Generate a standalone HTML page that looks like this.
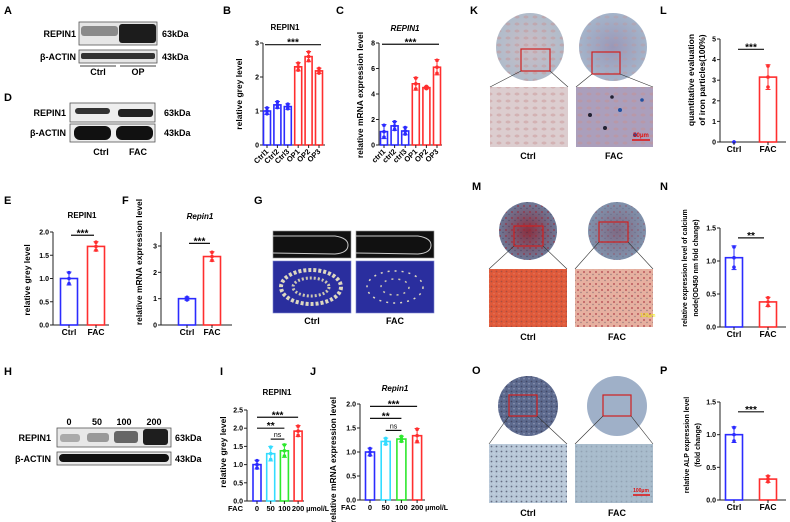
<!DOCTYPE html>
<html><head><meta charset="utf-8">
<style>
html,body{margin:0;padding:0;background:#fff;}
svg{display:block;font-family:"Liberation Sans",Arial,sans-serif;}
.lt{font-weight:bold;font-size:11px;}
.bl{font-weight:bold;font-size:9px;}
</style></head>
<body>
<svg id="fig" width="790" height="522" viewBox="0 0 790 522" xmlns="http://www.w3.org/2000/svg">
<defs>
<radialGradient id="gk1" cx="50%" cy="50%" r="50%"><stop offset="0" stop-color="#cbbcc4"/><stop offset="1" stop-color="#b0bccb"/></radialGradient>
<radialGradient id="gk2" cx="50%" cy="50%" r="50%"><stop offset="0" stop-color="#9a98b8"/><stop offset="1" stop-color="#a4b4ca"/></radialGradient>
<radialGradient id="gm1" cx="50%" cy="50%" r="50%"><stop offset="0" stop-color="#8a3040"/><stop offset="1" stop-color="#6d7a98"/></radialGradient>
<radialGradient id="gm2" cx="50%" cy="50%" r="50%"><stop offset="0" stop-color="#7e6a84"/><stop offset="1" stop-color="#8092ac"/></radialGradient>
<pattern id="pdots" width="6" height="6" patternUnits="userSpaceOnUse"><rect width="6" height="6" fill="none"/><circle cx="2" cy="2" r="1" fill="#a02030" opacity="0.6"/><circle cx="5" cy="4.5" r="0.7" fill="#202040" opacity="0.4"/></pattern>
<pattern id="pdark" width="5" height="5" patternUnits="userSpaceOnUse"><circle cx="1.5" cy="1.5" r="0.9" fill="#30304a" opacity="0.6"/><circle cx="4" cy="3.8" r="0.7" fill="#dde" opacity="0.5"/></pattern>
<pattern id="pcell" width="9" height="7" patternUnits="userSpaceOnUse"><ellipse cx="4" cy="3" rx="2.5" ry="1.5" fill="#c89090" opacity="0.45"/></pattern>
</defs>

<text class="lt" x="4" y="14">A</text>
<text class="lt" x="223" y="14">B</text>
<text class="lt" x="336" y="14">C</text>
<text class="lt" x="4" y="101">D</text>
<text class="lt" x="4" y="204">E</text>
<text class="lt" x="122" y="204">F</text>
<text class="lt" x="254" y="204">G</text>
<text class="lt" x="4" y="375">H</text>
<text class="lt" x="220" y="375">I</text>
<text class="lt" x="310" y="375">J</text>
<text class="lt" x="470" y="14">K</text>
<text class="lt" x="660" y="14">L</text>
<text class="lt" x="472" y="190">M</text>
<text class="lt" x="660" y="190">N</text>
<text class="lt" x="472" y="374">O</text>
<text class="lt" x="660" y="374">P</text>

<g>
<rect x="79" y="22" width="78" height="23" fill="#e6e6e6" stroke="#555" stroke-width="0.8"/>
<rect x="81" y="26" width="37" height="10" fill="#8a8a8a" rx="3"/>
<rect x="119" y="24" width="37" height="19" fill="#1c1c1c" rx="3"/>
<rect x="79" y="50" width="78" height="13" fill="#e6e6e6" stroke="#555" stroke-width="0.8"/>
<rect x="81" y="53" width="74" height="6" fill="#333" rx="2"/>
<line x1="80" y1="66" x2="116" y2="66" stroke="#000" stroke-width="0.8"/>
<line x1="120" y1="66" x2="156" y2="66" stroke="#000" stroke-width="0.8"/>
<text class="bl" x="76" y="37" text-anchor="end">REPIN1</text>
<text class="bl" x="76" y="60" text-anchor="end">β-ACTIN</text>
<text class="bl" x="162" y="37">63kDa</text>
<text class="bl" x="162" y="60">43kDa</text>
<text class="bl" x="98" y="75" text-anchor="middle">Ctrl</text>
<text class="bl" x="138" y="75" text-anchor="middle">OP</text>
</g>
<g>
<rect x="70" y="103" width="85" height="19" fill="#eee" stroke="#555" stroke-width="0.8"/>
<rect x="75" y="108" width="35" height="6" fill="#333" rx="3"/>
<rect x="118" y="109" width="35" height="8" fill="#222" rx="3"/>
<rect x="70" y="124" width="85" height="18" fill="#eee" stroke="#555" stroke-width="0.8"/>
<rect x="74" y="126" width="37" height="14" fill="#111" rx="6"/>
<rect x="116" y="126" width="37" height="14" fill="#111" rx="6"/>
<text class="bl" x="66" y="116" text-anchor="end">REPIN1</text>
<text class="bl" x="66" y="136" text-anchor="end">β-ACTIN</text>
<text class="bl" x="164" y="116">63kDa</text>
<text class="bl" x="164" y="136">43kDa</text>
<text class="bl" x="101" y="155" text-anchor="middle">Ctrl</text>
<text class="bl" x="138" y="155" text-anchor="middle">FAC</text>
</g>
<g>
<text class="bl" x="69" y="425" text-anchor="middle">0</text>
<text class="bl" x="97" y="425" text-anchor="middle">50</text>
<text class="bl" x="124" y="425" text-anchor="middle">100</text>
<text class="bl" x="154" y="425" text-anchor="middle">200</text>
<rect x="57" y="428" width="114" height="19" fill="#e8e8e8" stroke="#555" stroke-width="0.8"/>
<rect x="60" y="434" width="20" height="8" fill="#aaa" rx="3"/>
<rect x="87" y="433" width="22" height="9" fill="#999" rx="3"/>
<rect x="114" y="431" width="24" height="12" fill="#666" rx="3"/>
<rect x="143" y="429" width="25" height="16" fill="#1e1e1e" rx="3"/>
<rect x="57" y="452" width="114" height="13" fill="#e8e8e8" stroke="#555" stroke-width="0.8"/>
<rect x="59" y="454" width="110" height="8" fill="#111" rx="4"/>
<text class="bl" x="51" y="441" text-anchor="end">REPIN1</text>
<text class="bl" x="51" y="462" text-anchor="end">β-ACTIN</text>
<text class="bl" x="175" y="441">63kDa</text>
<text class="bl" x="175" y="462">43kDa</text>
</g>
<g>
<rect x="273" y="231" width="78" height="27" fill="#111" stroke="#999" stroke-width="0.6"/>
<path d="M273 236 L335 236 Q348 238 348 245 Q348 253 335 254 L273 253" fill="none" stroke="#ccc" stroke-width="1"/>
<rect x="356" y="231" width="78" height="27" fill="#111" stroke="#999" stroke-width="0.6"/>
<path d="M356 236 L418 236 Q431 238 431 245 Q431 253 418 254 L356 253" fill="none" stroke="#ccc" stroke-width="1"/>
<rect x="273" y="261" width="78" height="52" fill="#2a2e9e" stroke="#7d85d0" stroke-width="0.6"/>
<ellipse cx="311" cy="287" rx="30" ry="17" fill="none" stroke="#ddd8c0" stroke-width="4" stroke-dasharray="3 2"/>
<ellipse cx="311" cy="287" rx="18" ry="9" fill="none" stroke="#ccc7b0" stroke-width="3" stroke-dasharray="2 2"/>
<rect x="356" y="261" width="78" height="52" fill="#2a2e9e" stroke="#7d85d0" stroke-width="0.6"/>
<ellipse cx="395" cy="287" rx="28" ry="16" fill="none" stroke="#ddd8c0" stroke-width="1.5" stroke-dasharray="2 5"/>
<ellipse cx="395" cy="287" rx="14" ry="8" fill="none" stroke="#ccc7b0" stroke-width="1.5" stroke-dasharray="2 5"/>
<text class="bl" x="312" y="324" text-anchor="middle">Ctrl</text>
<text class="bl" x="395" y="324" text-anchor="middle">FAC</text>
</g>
<g>
<circle cx="530" cy="47" r="34" fill="url(#gk1)"/>
<circle cx="530" cy="47" r="34" fill="url(#pcell)"/>
<circle cx="613" cy="47" r="34" fill="url(#gk2)"/>
<circle cx="613" cy="47" r="34" fill="url(#pcell)" opacity="0.7"/>
<rect x="521" y="49" width="29" height="22" fill="none" stroke="#d02020" stroke-width="1.2"/>
<rect x="592" y="52" width="28" height="22" fill="none" stroke="#d02020" stroke-width="1.2"/>
<line x1="521" y1="71" x2="490" y2="87" stroke="#333" stroke-width="0.6"/><line x1="550" y1="71" x2="568" y2="87" stroke="#333" stroke-width="0.6"/>
<line x1="592" y1="74" x2="576" y2="87" stroke="#333" stroke-width="0.6"/><line x1="620" y1="74" x2="653" y2="87" stroke="#333" stroke-width="0.6"/>
<rect x="490" y="87" width="78" height="60" fill="#dccdcf"/>
<rect x="490" y="87" width="78" height="60" fill="url(#pcell)"/>
<rect x="576" y="87" width="77" height="60" fill="#ab9fbc"/>
<rect x="576" y="87" width="77" height="60" fill="url(#pcell)"/>
<circle cx="590" cy="115" r="2" fill="#223"/><circle cx="605" cy="128" r="2" fill="#223"/><circle cx="620" cy="110" r="2" fill="#2050a0"/><circle cx="635" cy="135" r="2" fill="#2050a0"/><circle cx="612" cy="97" r="1.8" fill="#223"/><circle cx="642" cy="100" r="1.8" fill="#2050a0"/>
<line x1="632" y1="140" x2="650" y2="140" stroke="#e01010" stroke-width="1.5"/>
<text x="641" y="137" font-size="6" font-weight="bold" fill="#e01010" text-anchor="middle">50μm</text>
<text class="bl" x="528" y="159" text-anchor="middle">Ctrl</text>
<text class="bl" x="614" y="159" text-anchor="middle">FAC</text>
</g>
<g>
<circle cx="528" cy="231" r="29" fill="url(#gm1)"/><circle cx="528" cy="231" r="29" fill="url(#pdots)"/>
<circle cx="617" cy="231" r="29" fill="url(#gm2)"/><circle cx="617" cy="231" r="29" fill="url(#pdots)" opacity="0.5"/>
<rect x="514" y="226" width="29" height="20" fill="none" stroke="#d02020" stroke-width="1.2"/>
<rect x="599" y="222" width="29" height="20" fill="none" stroke="#d02020" stroke-width="1.2"/>
<line x1="514" y1="246" x2="489" y2="269" stroke="#333" stroke-width="0.6"/><line x1="543" y1="246" x2="567" y2="269" stroke="#333" stroke-width="0.6"/>
<line x1="599" y1="242" x2="575" y2="269" stroke="#333" stroke-width="0.6"/><line x1="628" y1="242" x2="653" y2="269" stroke="#333" stroke-width="0.6"/>
<rect x="489" y="269" width="78" height="58" fill="#e05a3a"/>
<rect x="489" y="269" width="78" height="58" fill="url(#pdark)" opacity="0.5"/>
<rect x="575" y="269" width="78" height="58" fill="#e6b0a0"/>
<rect x="575" y="269" width="78" height="58" fill="url(#pdots)"/>
<text x="640" y="317" font-size="5" fill="#ee0">100μm</text>
<text class="bl" x="528" y="340" text-anchor="middle">Ctrl</text>
<text class="bl" x="617" y="340" text-anchor="middle">FAC</text>
</g>
<g>
<circle cx="528" cy="406" r="30" fill="#5d6a8e"/><circle cx="528" cy="406" r="30" fill="url(#pdark)"/>
<circle cx="617" cy="406" r="30" fill="#9fb0c8"/>
<rect x="509" y="395" width="28" height="21" fill="none" stroke="#d02020" stroke-width="1.2"/>
<rect x="603" y="395" width="28" height="21" fill="none" stroke="#d02020" stroke-width="1.2"/>
<line x1="509" y1="416" x2="489" y2="444" stroke="#333" stroke-width="0.6"/><line x1="537" y1="416" x2="567" y2="444" stroke="#333" stroke-width="0.6"/>
<line x1="603" y1="416" x2="575" y2="444" stroke="#333" stroke-width="0.6"/><line x1="631" y1="416" x2="653" y2="444" stroke="#333" stroke-width="0.6"/>
<rect x="489" y="444" width="78" height="59" fill="#b8c8d8"/><rect x="489" y="444" width="78" height="59" fill="url(#pdark)"/>
<rect x="575" y="444" width="78" height="59" fill="#a8bccc"/><rect x="575" y="444" width="78" height="59" fill="url(#pdark)" opacity="0.3"/>
<line x1="633" y1="495" x2="650" y2="495" stroke="#e01010" stroke-width="1.5"/>
<text x="641" y="492" font-size="5" font-weight="bold" fill="#e01010" text-anchor="middle">100μm</text>
<text class="bl" x="528" y="516" text-anchor="middle">Ctrl</text>
<text class="bl" x="617" y="516" text-anchor="middle">FAC</text>
</g>
<g id="charts"></g>
</svg>
<script>
const bCategories = ["Ctrl1","Ctrl2","Ctrl3","OP1","OP2","OP3"];
const bValues = [1.0, 1.18, 1.13, 2.3, 2.6, 2.18];
const bErrors = [0.1, 0.1, 0.08, 0.12, 0.15, 0.08];
const bTicks = ["0","1","2","3"];
const cCategories = ["ctrl1","ctrl2","ctrl3","OP1","OP2","OP3"];
const cValues = [1.05, 1.5, 1.1, 4.8, 4.5, 6.1];
const cErrors = [0.55, 0.35, 0.3, 0.5, 0.1, 0.6];
const cTicks = ["0","2","4","6","8"];
const eCategories = ["Ctrl","FAC"];
const eValues = [1.0, 1.69];
const eErrors = [0.14, 0.1];
const eTicks = ["0.0","0.5","1.0","1.5","2.0"];
const fCategories = ["Ctrl","FAC"];
const fValues = [1.0, 2.6];
const fErrors = [0.06, 0.18];
const fTicks = ["0","1","2","3"];
const iCategories = ["0","50","100","200"];
const iValues = [1.0, 1.3, 1.38, 1.92];
const iErrors = [0.12, 0.2, 0.18, 0.15];
const iTicks = ["0.0","0.5","1.0","1.5","2.0","2.5"];
const jCategories = ["0","50","100","200"];
const jValues = [1.0, 1.22, 1.27, 1.34];
const jErrors = [0.08, 0.07, 0.06, 0.15];
const jTicks = ["0.0","0.5","1.0","1.5","2.0"];
const lCategories = ["Ctrl","FAC"];
const lValues = [0, 3.15];
const lErrors = [0, 0.6];
const lTicks = ["0","1","2","3","4","5"];
const nCategories = ["Ctrl","FAC"];
const nValues = [1.05, 0.38];
const nErrors = [0.18, 0.07];
const nTicks = ["0.0","0.5","1.0","1.5"];
const pCategories = ["Ctrl","FAC"];
const pValues = [1.0, 0.32];
const pErrors = [0.12, 0.05];
const pTicks = ["0.0","0.5","1.0","1.5"];

const NS = "http://www.w3.org/2000/svg";
const root = document.getElementById("charts");
function mk(tag, attrs, parent){
  const e = document.createElementNS(NS, tag);
  for (const k in attrs) e.setAttribute(k, attrs[k]);
  parent.appendChild(e);
  return e;
}
const BLUE="#2b2bff", RED="#ff2e2e", CYAN="#33dcff", GREEN="#2ee82e";

function chart(o){
  const g = mk("g", {}, root);
  
  
  const yMax = parseFloat(o.ticks[o.ticks.length-1]);
  const ys = v => o.y0 - (v / yMax) * (o.y0 - o.yTop);
  const xs = i => o.cx0 + i * o.step;
  const axTop = o.axisTop !== undefined ? o.axisTop : o.yTop;
  const ya = mk("line", {x1:o.x0, y1:axTop, x2:o.x0, y2:o.y0, stroke:"#222", "stroke-width":1}, g);
  
  
  const xa = mk("line", {x1:o.x0, y1:o.y0, x2:o.x1, y2:o.y0, stroke:"#222", "stroke-width":1}, g);
  
  
  o.ticks.forEach(t => {
    const y = ys(parseFloat(t));
    mk("line", {x1:o.x0-3, y1:y, x2:o.x0, y2:y, stroke:"#222", "stroke-width":1}, g);
    const tl = mk("text", {x:o.x0-4, y:y+2.5, "font-size":7, "font-weight":"bold", "text-anchor":"end"}, g);
    tl.textContent = t;
    
    
  });
  o.values.forEach((v, i) => {
    const x = xs(i), col = o.colors[i];
    const yv = ys(v);
    const bar = mk("rect", {x:x-o.bw/2, y:yv, width:o.bw, height:Math.max(0,o.y0-yv), fill:"none", stroke:col, "stroke-width":1.6}, g);
    
    
    const e = o.errs[i];
    if (e > 0){
      mk("line", {x1:x, y1:ys(v+e), x2:x, y2:ys(v-e), stroke:col, "stroke-width":1}, g);
      mk("line", {x1:x-2.5, y1:ys(v+e), x2:x+2.5, y2:ys(v+e), stroke:col, "stroke-width":1}, g);
      mk("line", {x1:x-2.5, y1:ys(v-e), x2:x+2.5, y2:ys(v-e), stroke:col, "stroke-width":1}, g);
    }
    [v+e*0.9, v, v-e*0.8].forEach(pv => {
      const d = mk("circle", {cx:x, cy:ys(pv), r:1.8, fill:col}, g);
      
      
    });
    mk("line", {x1:x, y1:o.y0, x2:x, y2:o.y0+3, stroke:"#222", "stroke-width":1}, g);
    let lab;
    if (o.rotate){
      lab = mk("text", {x:x+2, y:o.y0+7, "font-size":7.5, "font-weight":"bold", "text-anchor":"end", transform:"rotate(-45 "+(x+2)+" "+(o.y0+7)+")"}, g);
    } else {
      lab = mk("text", {x:x, y:o.y0+10, "font-size":o.xfs||8.5, "font-weight":"bold", "text-anchor":"middle"}, g);
    }
    lab.textContent = o.cats[i];
    
    
  });
  (o.sig||[]).forEach(s => {
    const y = ys(s[2]);
    const x1 = xs(s[0]) - (s[4]||0), x2 = xs(s[1]) + (s[4]||0);
    const l = mk("line", {x1:x1, y1:y, x2:x2, y2:y, stroke:"#111", "stroke-width":1.2}, g);
    
    
    const isNs = s[3] === "ns";
    const t = mk("text", {x:(x1+x2)/2, y: isNs ? y-2 : y+1, "font-size": isNs?7:10, "font-weight": isNs?"normal":"bold", "text-anchor":"middle"}, g);
    t.textContent = s[3];
    
    
  });
  if (o.title){
    const t = mk("text", {x:o.title[1], y:o.title[2], "font-size":8, "font-weight":"bold", "text-anchor":"middle", "font-style":o.title[3]?"italic":"normal"}, g);
    t.textContent = o.title[0];
    
    
  }
  o.ylab.forEach(yl => {
    const t = mk("text", {x:yl[1], y:yl[2], "font-size":yl[3]||8.5, "font-weight":"bold", "text-anchor":"middle", transform:"rotate(-90 "+yl[1]+" "+yl[2]+")"}, g);
    t.textContent = yl[0];
    
    
  });
  if (o.fac){
    const f = mk("text", {x:o.x0-4, y:o.y0+10, "font-size":7.5, "font-weight":"bold", "text-anchor":"end"}, g);
    f.textContent = "FAC";
    
    
    const u = mk("text", {x:xs(o.values.length-1)+8, y:o.y0+10, "font-size":7, "font-weight":"bold"}, g);
    u.textContent = "μmol/L";
    
    
  }
}
const six = [BLUE,BLUE,BLUE,RED,RED,RED], two=[BLUE,RED], four=[BLUE,CYAN,GREEN,RED];

chart({name:"chart-b", cats:bCategories, values:bValues, errs:bErrors, ticks:bTicks, colors:six,
  x0:263, x1:325, y0:145, yTop:43, cx0:267, step:10.4, bw:7, rotate:true,
  sig:[[0,5,2.95,"***",2]], title:["REPIN1",285,30], ylab:[["relative grey  level",242,94]]});
chart({name:"chart-c", cats:cCategories, values:cValues, errs:cErrors, ticks:cTicks, colors:six,
  x0:379, x1:442, y0:145, yTop:43, cx0:384, step:10.6, bw:7, rotate:true,
  sig:[[0,5,7.9,"***",2]], title:["REPIN1",405,31,true], ylab:[["relative mRNA expression level",363,95]]});
chart({name:"chart-e", cats:eCategories, values:eValues, errs:eErrors, ticks:eTicks, colors:two,
  x0:53, x1:109, y0:325, yTop:232, cx0:69, step:27, bw:17,
  sig:[[0,1,1.93,"***",-2]], title:["REPIN1",82,218], ylab:[["relative grey  level",30,280]]});
chart({name:"chart-f", cats:fCategories, values:fValues, errs:fErrors, ticks:fTicks, colors:two,
  x0:161, x1:232, y0:325, yTop:246, axisTop:232, cx0:187, step:25, bw:17,
  sig:[[0,1,3.1,"***",-2]], title:["Repin1",200,219,true], ylab:[["relative mRNA expression level",142,262]]});
chart({name:"chart-i", cats:iCategories, values:iValues, errs:iErrors, ticks:iTicks, colors:four,
  x0:247, x1:304, y0:501, yTop:410, cx0:257, step:13.7, bw:8, fac:true, xfs:7.5,
  sig:[[0,3,2.3,"***"],[0,2,2.0,"**"],[1,2,1.7,"ns"]], title:["REPIN1",277,395], ylab:[["relative grey  level",226,452]]});
chart({name:"chart-j", cats:jCategories, values:jValues, errs:jErrors, ticks:jTicks, colors:four,
  x0:360, x1:425, y0:500, yTop:404, cx0:370, step:15.7, bw:9, fac:true, xfs:7.5,
  sig:[[0,3,1.95,"***"],[0,2,1.7,"**"],[1,2,1.45,"ns"]], title:["Repin1",395,391,true], ylab:[["relative mRNA expression level",336,460]]});
chart({name:"chart-l", cats:lCategories, values:lValues, errs:lErrors, ticks:lTicks, colors:two,
  x0:720, x1:786, y0:142, yTop:39, cx0:734, step:34, bw:17,
  sig:[[0,1,4.5,"***",-4]], ylab:[["quantitative evaluation",694,80,8.5],["of iron particles(100%)",705,80,8.5]]});
chart({name:"chart-n", cats:nCategories, values:nValues, errs:nErrors, ticks:nTicks, colors:two,
  x0:720, x1:786, y0:327, yTop:228, cx0:734, step:34, bw:17,
  sig:[[0,1,1.35,"**",-4]], ylab:[["relative expression level of calcium",687,268,7],["node(OD450 nm fold change)",698,268,7]]});
chart({name:"chart-p", cats:pCategories, values:pValues, errs:pErrors, ticks:pTicks, colors:two,
  x0:720, x1:786, y0:500, yTop:402, cx0:734, step:34, bw:17,
  sig:[[0,1,1.35,"***",-4]], ylab:[["relative ALP expression level",689,445,7],["(fold change)",700,445,7]]});
</script>
</body></html>
